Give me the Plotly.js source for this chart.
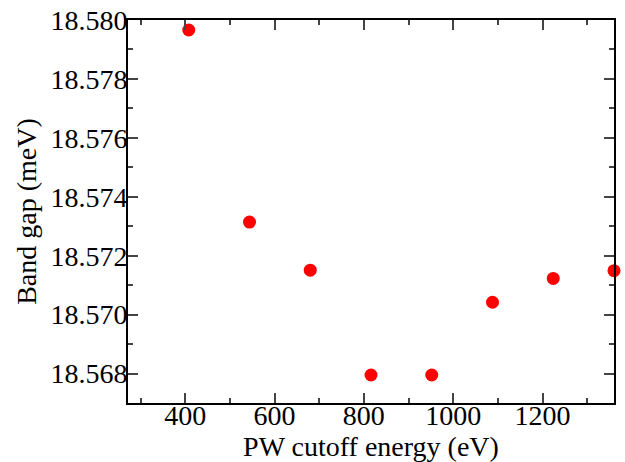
<!DOCTYPE html>
<html>
<head>
<meta charset="utf-8">
<script src="https://cdn.plot.ly/plotly-3.0.1.min.js"></script>
<style>html,body{margin:0;padding:0;background:#fff;}#chart{width:625px;height:462px;}</style>
</head>
<body>
<div id="chart"></div>
<script>
const cutoffEnergy = [408, 544, 680, 816, 952, 1088, 1224, 1360];
const bandGap = [18.57966, 18.57314, 18.57151, 18.56795, 18.56795, 18.57042, 18.57123, 18.57149];
const xTickVals = [400, 600, 800, 1000, 1200];
const yTickVals = [18.568, 18.570, 18.572, 18.574, 18.576, 18.578, 18.580];
const yTickText = ['18.568', '18.570', '18.572', '18.574', '18.576', '18.578', '18.580'];

const font = {family: 'Liberation Serif, Times New Roman, serif', size: 28, color: '#000'};

Plotly.newPlot('chart', [{
  x: cutoffEnergy, y: bandGap, type: 'scatter', mode: 'markers',
  marker: {color: '#ff0000', size: 13},
  cliponaxis: false
}], {
  width: 625, height: 462,
  margin: {l: 128, r: 11, t: 20, b: 59},
  paper_bgcolor: '#fff', plot_bgcolor: '#fff',
  showlegend: false,
  font: font,
  xaxis: {
    range: [272, 1360], tickvals: xTickVals, ticks: 'inside', ticklen: 10, tickwidth: 2,
    ticklabelstandoff: -14,
    minor: {dtick: 100, tick0: 0, ticks: 'inside', ticklen: 5, tickwidth: 2},
    showline: true, linewidth: 2, linecolor: '#000', mirror: 'ticks',
    showgrid: false, zeroline: false, tickfont: font,
    title: {text: 'PW cutoff energy (eV)', font: font, standoff: 5}
  },
  yaxis: {
    range: [18.567, 18.580], tickvals: yTickVals, ticktext: yTickText, ticks: 'inside', ticklen: 10, tickwidth: 2,
    ticklabelstandoff: -7,
    minor: {dtick: 0.001, tick0: 18.567, ticks: 'inside', ticklen: 5, tickwidth: 2},
    showline: true, linewidth: 2, linecolor: '#000', mirror: 'ticks',
    showgrid: false, zeroline: false, tickfont: font,
    title: {text: 'Band gap (meV)', font: font, standoff: 6}
  }
}, {displayModeBar: false, staticPlot: true});
</script>
</body>
</html>
